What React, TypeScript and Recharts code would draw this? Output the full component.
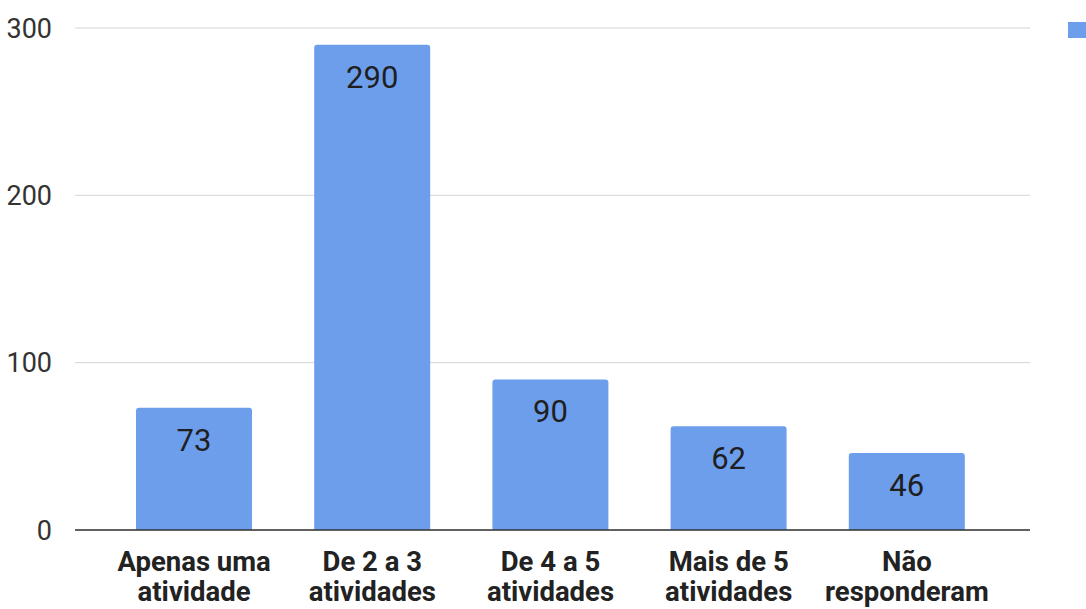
import { Bar, BarChart, CartesianGrid, LabelList, XAxis, YAxis } from "recharts"

const categories = [
  "Apenas uma atividade",
  "De 2 a 3 atividades",
  "De 4 a 5 atividades",
  "Mais de 5 atividades",
  "Não responderam",
]
const values = [73, 290, 90, 62, 46]
const yTicks = [0, 100, 200, 300]

const data = categories.map((name, i) => ({ name, value: values[i] }))

function CategoryTick({ x, y, payload }: any) {
  const words = String(payload.value).split(" ")
  const last = words.pop()
  const first = words.join(" ")
  return (
    <g transform={`translate(${x},${y})`}>
      <text textAnchor="middle" fill="#222" fontSize={27.5} fontWeight={700} fontFamily="Roboto">
        <tspan x={0} dy={33}>{first}</tspan>
        <tspan x={0} dy={30}>{last}</tspan>
      </text>
    </g>
  )
}

export default function App() {
  return (
    <div style={{ position: "absolute", left: 0, top: 0, width: 1086, height: 609, background: "#fff", overflow: "hidden", fontFamily: "Roboto" }}>
      <BarChart width={1086} height={609} data={data} margin={{ top: 28, right: 56, bottom: 0, left: 0 }} barCategoryGap={31}>
        <CartesianGrid vertical={false} stroke="#d4d4d4" />
        <XAxis
          dataKey="name"
          height={79}
          tickLine={false}
          axisLine={{ stroke: "#333", strokeWidth: 1.5 }}
          tick={<CategoryTick />}
          interval={0}
          padding={{ left: 30, right: 34 }}
        />
        <YAxis
          width={75}
          domain={[0, 300]}
          ticks={yTicks}
          axisLine={false}
          tickLine={false}
          tickMargin={17}
          tick={{ fill: "#333", fontSize: 27, fontFamily: "Roboto" }}
        />
        <Bar dataKey="value" fill="#6d9eeb" radius={[3, 3, 0, 0]} isAnimationActive={false}>
          <LabelList dataKey="value" position="insideTop" offset={21} fill="#1f1f1f" fontSize={31} fontFamily="Roboto" />
        </Bar>
      </BarChart>
      <div style={{ position: "absolute", left: 1068, top: 22, width: 18, height: 16, background: "#6d9eeb" }} />
    </div>
  )
}
